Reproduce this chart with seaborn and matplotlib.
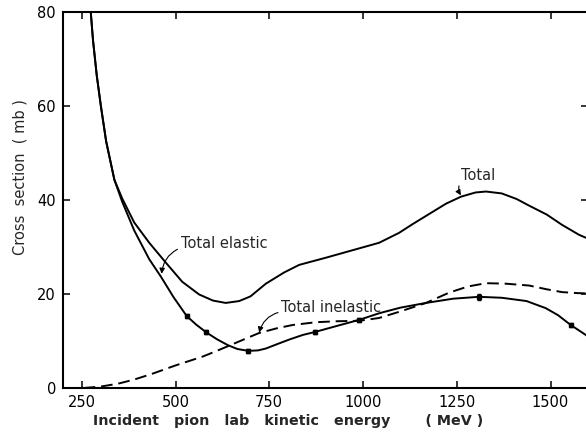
import numpy as np
import pandas as pd
import matplotlib
matplotlib.use("Agg")
import matplotlib.pyplot as plt
import seaborn as sns

# ---- data ----
total_E = [270, 280, 290, 301, 315, 337, 358, 390, 430, 475, 518, 563, 600, 634, 670, 700,
           741, 790, 830, 900, 976, 1043, 1096, 1131, 1180, 1221, 1261, 1300, 1328, 1370,
           1410, 1443, 1490, 1531, 1576, 1605]
total_mb = [84, 74, 66.5, 60, 52.5, 44.3, 40.3, 35.2, 30.9, 26.6, 22.6, 19.9, 18.6, 18.1, 18.5, 19.5,
            22.2, 24.6, 26.2, 27.7, 29.4, 30.9, 33.0, 34.8, 37.2, 39.2, 40.7, 41.6, 41.8, 41.4,
            40.2, 38.8, 36.9, 34.7, 32.6, 31.6]

elastic_E = [270, 280, 290, 301, 315, 337, 358, 390, 430, 461, 495, 530, 555, 581, 610, 640, 665,
             694, 720, 741, 770, 803, 840, 871, 930, 990, 1043, 1100, 1168, 1240, 1309, 1370,
             1436, 1487, 1520, 1554, 1575, 1605]
elastic_mb = [84, 74, 66.5, 60, 52.5, 44.3, 39.6, 33.5, 27.4, 23.7, 19.3, 15.3, 13.5, 11.9, 10.4, 9.1, 8.3,
              7.9, 8.0, 8.4, 9.3, 10.3, 11.3, 11.9, 13.2, 14.5, 15.9, 17.1, 18.1, 19.0, 19.4, 19.2,
              18.5, 17.0, 15.5, 13.4, 12.3, 10.7]

inelastic_E = [255, 300, 346, 390, 437, 500, 573, 610, 646, 690, 723, 770, 812, 875, 930, 990,
               1043, 1100, 1168, 1230, 1280, 1328, 1380, 1443, 1490, 1531, 1570, 1605]
inelastic_mb = [0.0, 0.3, 0.9, 1.8, 3.0, 4.8, 6.7, 7.9, 9.1, 10.6, 11.7, 12.7, 13.4, 14.0, 14.2, 14.3,
                14.9, 16.3, 18.1, 20.3, 21.6, 22.3, 22.2, 21.8, 21.0, 20.4, 20.2, 20.1]

points_E = [530, 581, 694, 871, 990, 1309, 1554]
points_mb = [15.3, 11.9, 7.9, 11.9, 14.5, 19.4, 13.4]
points_err = [0.5, 0.5, 0.4, 0.4, 0.4, 0.6, 0.5]

x_ticks = [250, 500, 750, 1000, 1250, 1500]
x_ticklabels = ["250", "500", "750", "1000", "1250", "1500"]
y_ticks = [0, 20, 40, 60, 80]
y_ticklabels = ["0", "20", "40", "60", "80"]

# ---- plot ----
sns.set_style("ticks")
plt.rcParams["font.family"] = ["DejaVu Sans"]

fig = plt.figure(figsize=(5.86, 4.34), dpi=100)
ax = fig.add_axes([63 / 586, 1 - 388 / 434, 525 / 586, 376 / 434])

df_tot = pd.DataFrame({"E": total_E, "mb": total_mb})
df_el = pd.DataFrame({"E": elastic_E, "mb": elastic_mb})
df_in = pd.DataFrame({"E": inelastic_E, "mb": inelastic_mb})

lw = 1.4
sns.lineplot(data=df_tot, x="E", y="mb", ax=ax, color="black", lw=lw, sort=False)
sns.lineplot(data=df_el, x="E", y="mb", ax=ax, color="black", lw=lw, sort=False)
sns.lineplot(data=df_in, x="E", y="mb", ax=ax, color="black", lw=lw, sort=False,
             dashes=False, linestyle=(0, (6, 3)))
ax.errorbar(points_E, points_mb, yerr=points_err, fmt="s", color="black", ms=3.5,
            capsize=1.5, elinewidth=1, capthick=1, zorder=5)

ax.set_xlim(200, 1600)
ax.set_ylim(0, 80)
ax.set_xticks(x_ticks)
ax.set_xticklabels(x_ticklabels)
ax.set_yticks(y_ticks)
ax.set_yticklabels(y_ticklabels)
ax.tick_params(direction="in", length=5, width=1.1, labelsize=10.5, pad=5,
               top=True, right=True, colors="black")
for s in ax.spines.values():
    s.set_linewidth(1.5)
    s.set_color("black")
ax.spines["right"].set_visible(False)

ax.set_xlabel("Incident   pion   lab   kinetic   energy       ( MeV )",
              fontsize=10.3, fontweight="bold", va="center")
ax.set_ylabel("Cross  section  ( mb )", fontsize=10.5, va="center")
ax.xaxis.set_label_coords(0.428, -0.088)
ax.yaxis.set_label_coords(-0.082, 0.56)

# annotations
arrow = dict(arrowstyle="-|>,head_length=0.3,head_width=0.15", color="black",
             lw=0.8, connectionstyle="arc3,rad=0.3", shrinkA=0, shrinkB=0)
ax.annotate("Total elastic", xy=(463, 24.3), xytext=(514, 30.8), fontsize=10.5,
            va="center", ha="left", arrowprops=dict(arrow, relpos=(0.0, 0.2)))
ax.annotate("Total inelastic", xy=(723, 11.8), xytext=(782, 17.2), fontsize=10.5,
            va="center", ha="left", arrowprops=dict(arrow, relpos=(0.0, 0.2)))
ax.annotate("Total", xy=(1261, 41.0), xytext=(1261, 45.3), fontsize=10.5,
            va="center", ha="left", arrowprops=dict(arrow, relpos=(0.0, 0.1)))

fig.savefig("out.png", dpi=100)
